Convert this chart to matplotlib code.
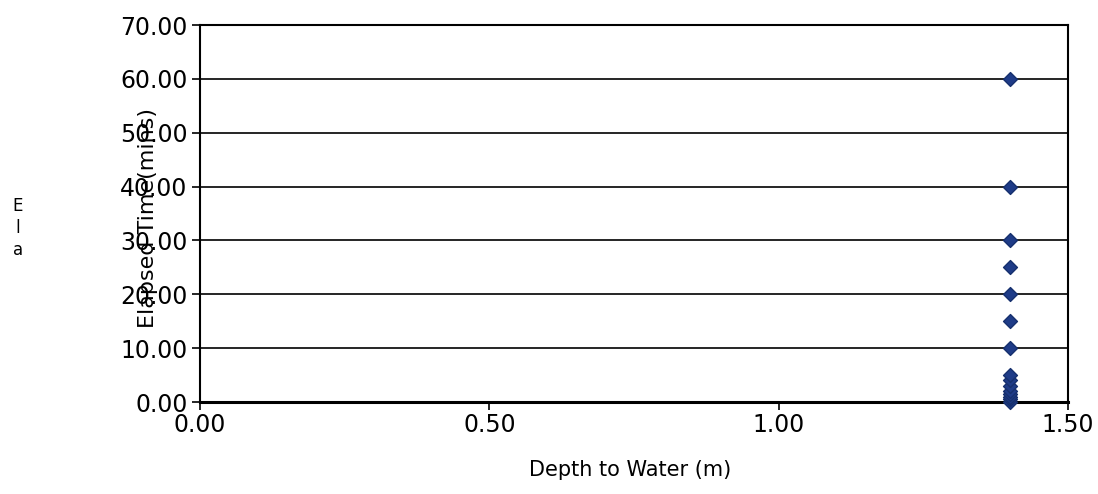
import matplotlib.pyplot as plt

# elapsed time (mins) vs depth to water (m)
elapsed = [0.0, 0.5, 1.0, 1.5, 2.0, 3.0, 4.0, 5.0, 10.0, 15.0, 20.0, 25.0, 30.0, 40.0, 60.0]
depth = [1.40, 1.40, 1.40, 1.40, 1.40, 1.40, 1.40, 1.40, 1.40, 1.40, 1.40, 1.40, 1.40, 1.40, 1.40]

xticks = [0.0, 0.5, 1.0, 1.5]
yticks = [0, 10, 20, 30, 40, 50, 60, 70]

fig = plt.figure(figsize=(10.98, 4.94), dpi=100)
ax = fig.add_axes([200 / 1098, 1 - 402 / 494, 868 / 1098, 377 / 494])

ax.scatter(depth, elapsed, marker='D', s=50, color='#1f3c88', edgecolors='#16306e',
           zorder=3, clip_on=False)

ax.set_xlim(0, 1.5)
ax.set_ylim(0, 70)
ax.set_xticks(xticks)
ax.set_yticks(yticks)
ax.set_xticklabels(['%.2f' % v for v in xticks])
ax.set_yticklabels(['%.2f' % v for v in yticks])
ax.grid(axis='y', color='black', linewidth=1.2)
ax.set_axisbelow(True)

for s in ['left', 'right', 'top']:
    ax.spines[s].set_linewidth(1.5)
ax.spines['bottom'].set_linewidth(2.2)
ax.tick_params(axis='both', labelsize=17, direction='out', length=6, width=1.2, color='black')
ax.tick_params(axis='x', pad=2)
ax.tick_params(axis='y', pad=3)

fig.text(630 / 1098, 1 - 470 / 494, 'Depth to Water (m)', fontsize=15,
         ha='center', va='center')
fig.text(148 / 1098, 1 - 218 / 494, 'Elapsed Time(mins)', rotation=90, fontsize=16,
         ha='center', va='center')
fig.text(18 / 1098, 1 - 228 / 494, 'E\nl\na', fontsize=12, ha='center', va='center',
         linespacing=1.3)

fig.savefig('out.png', dpi=100)
